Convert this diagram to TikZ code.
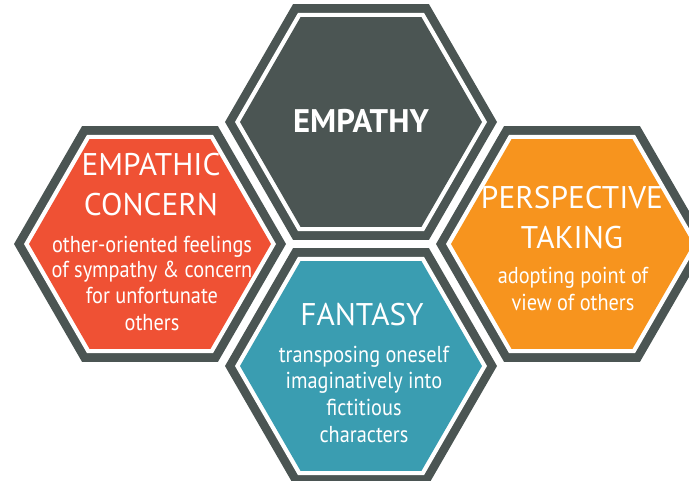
\documentclass[tikz,border=0pt]{standalone}
\usepackage{fontspec}
\setmainfont[FakeStretch=0.88]{PT Sans}
\newfontfamily\headfont{PT Sans}
\usetikzlibrary{shapes.geometric}

\definecolor{hexgrey}{HTML}{4B5553}
\definecolor{hexred}{HTML}{EF5134}
\definecolor{hexorange}{HTML}{F7941E}
\definecolor{hexteal}{HTML}{3A9DB1}

\tikzset{
  hexbase/.style={regular polygon, regular polygon sides=6, inner sep=0pt, outer sep=0pt},
  hexout/.style={hexbase, minimum size=204pt, fill=hexgrey},
  hexgap/.style={hexbase, minimum size=189pt, fill=white},
  hexin/.style={hexbase, minimum size=181.5pt, fill=#1},
  headtext/.style={text=white, anchor=base, inner sep=0pt, font=\headfont\bfseries\fontsize{24.5}{28}\selectfont},
  titletext/.style={text=white, anchor=base, inner sep=0pt, font=\headfont\fontsize{23.5}{28}\selectfont},
  desctext/.style={text=white, anchor=base, inner sep=0pt, font=\fontsize{17.3}{20}\selectfont}
}

\begin{document}
\begin{tikzpicture}[x=0.75pt,y=-0.75pt]
  \useasboundingbox (0,0) rectangle (689,480);

  % the four cells
  \foreach \name/\cx/\cy/\col in {empathy/361/122/hexgrey, concern/150/244/hexred, perspective/572/244/hexorange, fantasy/361/366/hexteal}{
    \node[hexout] (\name-out) at (\cx,\cy) {};
    \node[hexgap] (\name-gap) at (\name-out) {};
    \node[hexin=\col] (\name) at (\name-out) {};
  }

  % top cell
  \node[headtext] (empathy-t) at (361,132) {EMPATHY};

  % left cell
  \foreach \i/\y/\txt in {1/175/EMPATHIC, 2/215/CONCERN}
    \node[titletext] (concern-t\i) at (151,\y) {\txt};
  \foreach \i/\y/\txt in {1/252/other-oriented feelings, 2/277/of sympathy \& concern, 3/303/for unfortunate, 4/330/others}
    \node[desctext] (concern-d\i) at (152,\y) {\txt};

  % right cell
  \foreach \i/\y/\txt in {1/208/PERSPECTIVE, 2/248/TAKING}
    \node[titletext] (perspective-t\i) at (572,\y) {\txt};
  \foreach \i/\y/\txt in {1/283/adopting point of, 2/310/view of others}
    \node[desctext] (perspective-d\i) at (573,\y) {\txt};

  % bottom cell
  \node[titletext] (fantasy-t1) at (362,325) {FANTASY};
  \foreach \i/\y/\txt in {1/362/transposing oneself, 2/388/imaginatively into, 3/415/fictitious, 4/442/characters}
    \node[desctext] (fantasy-d\i) at (364,\y) {\txt};
\end{tikzpicture}
\end{document}
